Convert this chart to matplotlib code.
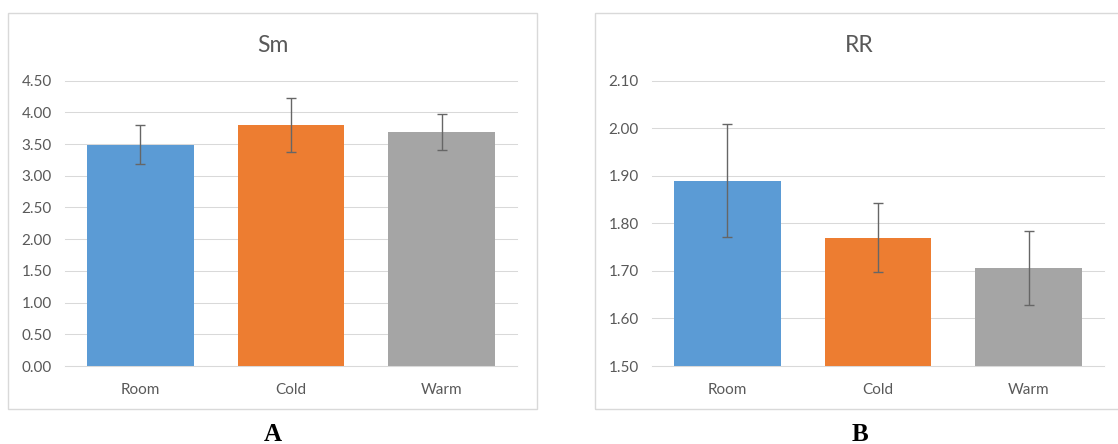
import matplotlib
matplotlib.use("Agg")
import matplotlib.pyplot as plt
from matplotlib.patches import Rectangle
import numpy as np

# Data
categories = ["Room", "Cold", "Warm"]
sm_means = [3.49, 3.80, 3.69]
sm_errors = [0.31, 0.43, 0.29]
rr_means = [1.89, 1.77, 1.706]
rr_errors = [0.118, 0.073, 0.078]
bar_colors = ["#5B9BD5", "#ED7D31", "#A5A5A5"]
sm_ticks = [0.00, 0.50, 1.00, 1.50, 2.00, 2.50, 3.00, 3.50, 4.00, 4.50]
rr_ticks = [1.50, 1.60, 1.70, 1.80, 1.90, 2.00, 2.10]

plt.rcParams["font.family"] = ["Lato", "DejaVu Sans"]

W, H = 1118, 444
fig = plt.figure(figsize=(W / 100, H / 100), dpi=100)

TEXT_GREY = "#595959"
LINE_GREY = "#D9D9D9"


def fx(px):
    return px / W


def fy(py):
    return 1 - py / H


def panel(left_px, frame_left_px, title, means, errors, ticks, letter):
    # chart-area border
    fig.add_artist(Rectangle((fx(frame_left_px), fy(409)), fx(529), 396 / H,
                             transform=fig.transFigure, fill=False,
                             edgecolor=LINE_GREY, lw=1.0, clip_on=False))
    ax = fig.add_axes([fx(left_px), fy(366), fx(452), 285.3 / H])
    x = np.arange(len(categories))
    ax.bar(x, means, width=0.71, color=bar_colors, zorder=2)
    ax.errorbar(x, means, yerr=errors, fmt="none", ecolor="#666666",
                elinewidth=1.0, capsize=3.6, capthick=1.0, zorder=3)
    ax.set_xlim(-0.5, len(categories) - 0.5)
    ax.set_ylim(ticks[0], ticks[-1])
    ax.set_yticks(ticks)
    ax.set_yticklabels([f"{t:.2f}" for t in ticks])
    ax.set_xticks(x)
    ax.set_xticklabels(categories)
    ax.tick_params(axis="y", length=0, pad=9.5, labelsize=11, labelcolor=TEXT_GREY)
    ax.tick_params(axis="x", length=0, pad=12.5, labelsize=11, labelcolor=TEXT_GREY)
    for side in ("top", "right", "left"):
        ax.spines[side].set_visible(False)
    ax.spines["bottom"].set_color(LINE_GREY)
    ax.spines["bottom"].set_linewidth(0.75)
    ax.yaxis.grid(True, color=LINE_GREY, lw=0.75)
    for gl in ax.get_ygridlines():
        gl.set_clip_on(False)
    ax.set_axisbelow(True)
    center = frame_left_px + 529 / 2
    fig.text(fx(center), fy(51.7), title, ha="center", va="baseline",
             fontsize=16.5, color=TEXT_GREY)
    fig.text(fx(center), fy(441), letter, ha="center", va="baseline",
             fontsize=18, fontweight="bold", family="Liberation Serif",
             color="black")
    return ax


panel(65, 8, "Sm", sm_means, sm_errors, sm_ticks, "A")
panel(652, 595, "RR", rr_means, rr_errors, rr_ticks, "B")

fig.savefig("out.png", dpi=100)
